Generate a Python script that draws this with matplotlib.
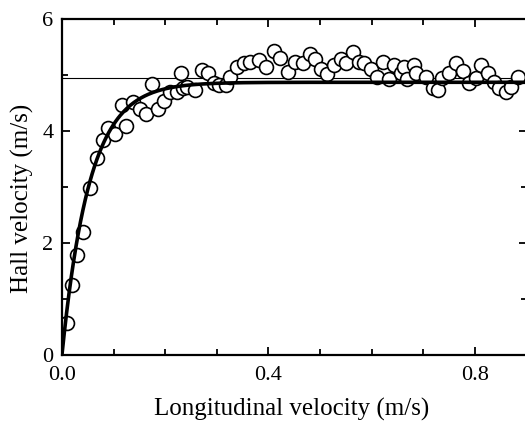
import numpy as np
import matplotlib
matplotlib.use('Agg')
import matplotlib.pyplot as plt
from matplotlib.ticker import MultipleLocator, FixedLocator

plt.rcParams['font.family'] = ['Liberation Serif', 'DejaVu Serif']

# measured points (longitudinal, Hall velocity)
long_vel = [0.009, 0.019, 0.030, 0.041, 0.054, 0.067, 0.080, 0.090, 0.103, 0.116,
            0.124, 0.137, 0.151, 0.163, 0.174, 0.186, 0.197, 0.210, 0.223, 0.231,
            0.235, 0.242, 0.258, 0.271, 0.282, 0.294, 0.304, 0.317, 0.326, 0.339,
            0.352, 0.365, 0.381, 0.396, 0.410, 0.423, 0.437, 0.452, 0.467, 0.480,
            0.491, 0.502, 0.514, 0.527, 0.540, 0.551, 0.563, 0.575, 0.586, 0.598,
            0.610, 0.621, 0.634, 0.643, 0.656, 0.663, 0.669, 0.681, 0.685, 0.705,
            0.718, 0.728, 0.737, 0.750, 0.763, 0.776, 0.789, 0.802, 0.812, 0.825,
            0.836, 0.847, 0.860, 0.870, 0.883]
hall_vel = [0.57, 1.25, 1.79, 2.19, 2.98, 3.51, 3.84, 4.05, 3.95, 4.46,
            4.09, 4.52, 4.40, 4.30, 4.84, 4.39, 4.54, 4.69, 4.70, 5.03,
            4.77, 4.79, 4.73, 5.09, 5.03, 4.85, 4.82, 4.82, 4.97, 5.15,
            5.21, 5.24, 5.27, 5.15, 5.43, 5.30, 5.06, 5.24, 5.21, 5.38,
            5.28, 5.10, 5.02, 5.18, 5.28, 5.21, 5.42, 5.24, 5.21, 5.10,
            4.97, 5.24, 4.92, 5.18, 5.04, 5.15, 4.92, 5.18, 5.03, 4.97,
            4.76, 4.73, 4.94, 5.03, 5.21, 5.08, 4.85, 4.94, 5.18, 5.03,
            4.88, 4.76, 4.70, 4.79, 4.97]

# saturating fit: v_H = v_sat * (1 - exp(-v_L / v_c))
v_sat = 4.87
v_c = 0.0536
ref_level = 4.95

fig = plt.figure(figsize=(5.25, 4.23), dpi=100)
ax = fig.add_axes([0.118, 0.161, 0.885, 0.794])

xfit = np.linspace(0, 0.9, 400)
ax.plot(xfit, v_sat * (1 - np.exp(-xfit / v_c)), color='black', lw=2.6, zorder=3)
ax.axhline(ref_level, color='black', lw=0.8, zorder=1)
ax.plot(long_vel, hall_vel, 'o', ms=10, mfc='white', mec='black', mew=1.2, zorder=2)

ax.set_xlim(0, 0.9)
ax.set_ylim(0, 6)
ax.xaxis.set_major_locator(FixedLocator([0.0, 0.4, 0.8]))
ax.xaxis.set_minor_locator(MultipleLocator(0.1))
ax.yaxis.set_major_locator(MultipleLocator(2))
ax.yaxis.set_minor_locator(MultipleLocator(1))
ax.set_xticklabels(['0.0', '0.4', '0.8'])
ax.tick_params(which='both', direction='in', top=True, right=True, width=1.3,
               labelsize=16)
ax.tick_params(axis='x', which='both', pad=8)
ax.tick_params(axis='y', which='both', pad=6)
ax.tick_params(which='major', length=6)
ax.tick_params(which='minor', length=4)
for s in ax.spines.values():
    s.set_linewidth(1.6)

ax.set_xlabel('Longitudinal velocity (m/s)', fontsize=18, va='center')
ax.set_ylabel('Hall velocity (m/s)', fontsize=18, va='center')
ax.xaxis.set_label_coords(0.495, -0.163)
ax.yaxis.set_label_coords(-0.086, 0.467)

fig.savefig('out.png', dpi=100)
plt.close(fig)
